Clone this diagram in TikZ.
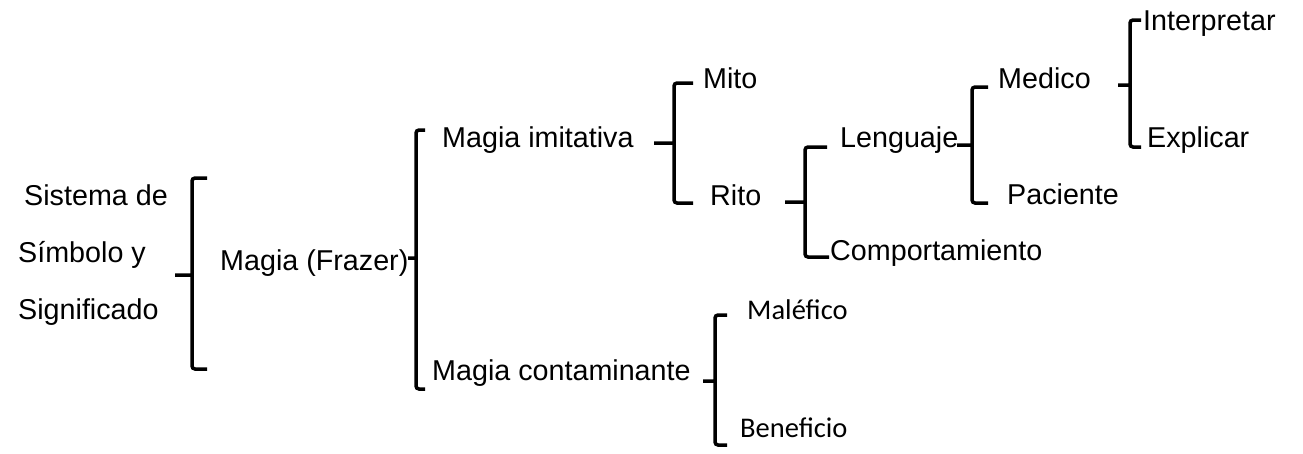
\documentclass[tikz,border=0pt]{standalone}
\usepackage{fontspec}
\setmainfont{Liberation Sans}
\newfontfamily\calibrifont{Carlito}
\usetikzlibrary{positioning}

\begin{document}
\begin{tikzpicture}
[x=1pt, y=-1pt, font=\fontsize{28.7}{34}\selectfont,
% STYLES
% The term style is used for every word of the scheme
term/.style={anchor=base west, inner sep=0pt},
% The calibri style is used for the two words set in another font
calibri/.style={term, font=\fontsize{28.5}{34}\selectfont\calibrifont},
% The llave style is used to draw the braces
llave/.style={line width=3.5pt, rounded corners=3pt}]

\useasboundingbox (0,0) rectangle (1303,453);

% Draw terms
\node [term] (sistema) at (24,205) {Sistema de};
\node [term] (simbolo) at (18,262) {Símbolo y};
\node [term] (significado) at (18,319) {Significado};
\node [term] (frazer) at (220,270) {Magia (Frazer)};
\node [term] (imitativa) at (442,147) {Magia imitativa};
\node [term] (contaminante) at (432,380) {Magia contaminante};
\node [term] (mito) at (703,88) {Mito};
\node [term] (rito) at (710,205) {Rito};
\node [term] (lenguaje) at (840,147) {Lenguaje};
\node [term] (comportamiento) at (830,260) {Comportamiento};
\node [term] (medico) at (998,88) {Medico};
\node [term] (paciente) at (1007,204) {Paciente};
\node [term] (interpretar) at (1143,30) {Interpretar};
\node [term] (explicar) at (1147,147) {Explicar};
\node [calibri] (malefico) at (747,319) {Maléfico};
\node [calibri] (beneficio) at (740,437) {Beneficio};

%%%%%%%%%%%%%%%
% Brace points: a = top end, b = bottom end, v = middle, t = tick end

% SISTEMA
\coordinate (a1) at (207,178); \coordinate (b1) at (207,369);
\coordinate (v1) at (192,275); \coordinate (t1) at (175,275);
% FRAZER
\coordinate (a2) at (425,130); \coordinate (b2) at (425,389);
\coordinate (v2) at (416,258); \coordinate (t2) at (408,258);
% IMITATIVA
\coordinate (a3) at (693,83); \coordinate (b3) at (693,203);
\coordinate (v3) at (674,143); \coordinate (t3) at (654,143);
% RITO
\coordinate (a4) at (827,147); \coordinate (b4) at (829,257);
\coordinate (v4) at (805,202); \coordinate (t4) at (785,202);
% LENGUAJE
\coordinate (a5) at (988,87); \coordinate (b5) at (988,203);
\coordinate (v5) at (972,145); \coordinate (t5) at (957,145);
% MEDICO
\coordinate (a6) at (1141,20); \coordinate (b6) at (1141,147);
\coordinate (v6) at (1130,85); \coordinate (t6) at (1118,85);
% CONTAMINANTE
\coordinate (a7) at (727,315); \coordinate (b7) at (727,445);
\coordinate (v7) at (715,381); \coordinate (t7) at (703,381);

%%%%%%%%%%%%%%%%

% Draw the braces
\foreach \i in {1,...,7}
  \draw[llave] (a\i) -| (v\i) |- (b\i) (t\i) -- (v\i);

\end{tikzpicture}
\end{document}
